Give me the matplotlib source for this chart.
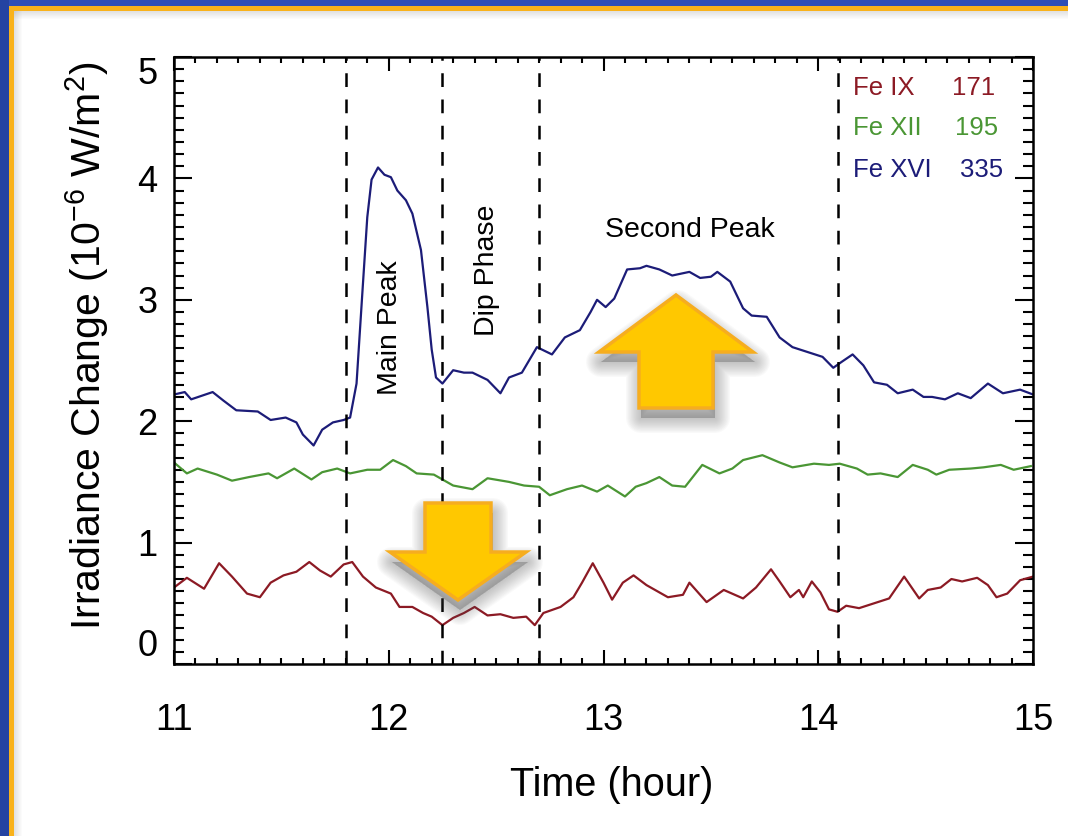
import numpy as np
import matplotlib
matplotlib.use('Agg')
import matplotlib.pyplot as plt
from matplotlib.patches import Polygon, Rectangle
from matplotlib.ticker import MultipleLocator

plt.rcParams['font.family'] = ['Liberation Sans', 'DejaVu Sans']
plt.rcParams['mathtext.fontset'] = 'custom'
plt.rcParams['mathtext.rm'] = 'Liberation Sans'
plt.rcParams['mathtext.it'] = 'Liberation Sans:italic'

# DATA
t_xvi = [11.00, 11.05, 11.08, 11.18, 11.23, 11.29, 11.39, 11.45, 11.52, 11.57,
         11.60, 11.65, 11.69, 11.74, 11.79, 11.82, 11.85, 11.875, 11.90, 11.92,
         11.95, 11.98, 12.01, 12.04, 12.08, 12.11, 12.15, 12.18, 12.20, 12.22,
         12.25, 12.30, 12.35, 12.39, 12.46, 12.52, 12.56, 12.62, 12.69, 12.76,
         12.82, 12.89, 12.94, 12.97, 13.01, 13.05, 13.11, 13.17, 13.20, 13.26,
         13.32, 13.40, 13.45, 13.50, 13.53, 13.59, 13.65, 13.69, 13.76, 13.82,
         13.88, 13.95, 14.02, 14.07, 14.11, 14.16, 14.21, 14.26, 14.32, 14.37,
         14.44, 14.49, 14.53, 14.59, 14.65, 14.71, 14.79, 14.86, 14.94, 15.00]
fe_xvi = [2.22, 2.24, 2.18, 2.24, 2.17, 2.09, 2.08, 2.01, 2.03, 1.99,
          1.89, 1.80, 1.93, 1.99, 2.01, 2.03, 2.31, 3.00, 3.68, 3.99,
          4.09, 4.03, 4.01, 3.90, 3.82, 3.71, 3.41, 2.94, 2.59, 2.36,
          2.31, 2.42, 2.40, 2.40, 2.34, 2.23, 2.36, 2.40, 2.61, 2.55,
          2.69, 2.75, 2.90, 3.00, 2.94, 3.01, 3.25, 3.26, 3.28, 3.25,
          3.20, 3.23, 3.18, 3.19, 3.23, 3.15, 2.93, 2.87, 2.86, 2.69,
          2.61, 2.57, 2.53, 2.44, 2.49, 2.55, 2.46, 2.32, 2.30, 2.23,
          2.26, 2.20, 2.20, 2.18, 2.23, 2.19, 2.31, 2.23, 2.26, 2.22]

t_xii = [11.00, 11.06, 11.11, 11.20, 11.27, 11.35, 11.44, 11.48, 11.56, 11.64,
         11.69, 11.76, 11.82, 11.90, 11.96, 12.02, 12.08, 12.13, 12.21, 12.30,
         12.39, 12.46, 12.56, 12.63, 12.70, 12.75, 12.83, 12.90, 12.97, 13.02,
         13.10, 13.15, 13.20, 13.26, 13.32, 13.38, 13.46, 13.54, 13.60, 13.65,
         13.74, 13.82, 13.88, 13.98, 14.05, 14.10, 14.18, 14.23, 14.29, 14.37,
         14.44, 14.51, 14.55, 14.61, 14.71, 14.77, 14.85, 14.91, 14.99]
fe_xii = [1.66, 1.57, 1.61, 1.56, 1.51, 1.54, 1.57, 1.53, 1.61, 1.52,
          1.58, 1.61, 1.57, 1.60, 1.60, 1.68, 1.63, 1.57, 1.56, 1.47,
          1.44, 1.53, 1.50, 1.47, 1.46, 1.39, 1.44, 1.47, 1.42, 1.47,
          1.38, 1.46, 1.49, 1.54, 1.47, 1.46, 1.64, 1.57, 1.61, 1.68,
          1.72, 1.66, 1.62, 1.65, 1.64, 1.65, 1.61, 1.56, 1.57, 1.54,
          1.64, 1.60, 1.56, 1.60, 1.61, 1.62, 1.64, 1.60, 1.63]

t_ix = [11.00, 11.06, 11.14, 11.21, 11.27, 11.34, 11.40, 11.45, 11.51, 11.57,
        11.63, 11.68, 11.73, 11.79, 11.83, 11.88, 11.94, 12.01, 12.05, 12.11,
        12.16, 12.20, 12.25, 12.30, 12.35, 12.40, 12.46, 12.52, 12.58, 12.64,
        12.68, 12.72, 12.80, 12.86, 12.90, 12.95, 13.00, 13.04, 13.09, 13.14,
        13.20, 13.30, 13.37, 13.40, 13.48, 13.56, 13.65, 13.71, 13.78, 13.82,
        13.87, 13.91, 13.93, 13.97, 14.01, 14.05, 14.09, 14.13, 14.19, 14.26,
        14.33, 14.40, 14.47, 14.51, 14.57, 14.62, 14.67, 14.74, 14.79, 14.83,
        14.88, 14.94, 15.00]
fe_ix = [0.63, 0.71, 0.62, 0.83, 0.72, 0.58, 0.55, 0.67, 0.73, 0.76,
         0.84, 0.77, 0.72, 0.82, 0.84, 0.72, 0.63, 0.58, 0.47, 0.47,
         0.42, 0.39, 0.32, 0.38, 0.42, 0.47, 0.40, 0.41, 0.38, 0.39,
         0.32, 0.42, 0.47, 0.55, 0.67, 0.83, 0.67, 0.53, 0.67, 0.73,
         0.65, 0.55, 0.57, 0.67, 0.51, 0.61, 0.54, 0.63, 0.78, 0.68,
         0.55, 0.61, 0.55, 0.68, 0.59, 0.45, 0.43, 0.48, 0.46, 0.50,
         0.54, 0.72, 0.54, 0.61, 0.63, 0.70, 0.68, 0.71, 0.65, 0.55,
         0.58, 0.69, 0.72]

phase_times = [11.80, 12.25, 12.70, 14.09]
legend_names = ['Fe IX', 'Fe XII', 'Fe XVI']
legend_waves = ['171', '195', '335']
colors = ['#8c1a24', '#4a9634', '#1c1c78']

W, H = 1068, 836
fig = plt.figure(figsize=(W/100, H/100), dpi=100, facecolor='white')

# frame: blue band + orange line + soft inner shadow (pixel coords, origin top-left)
def frect(x0, y0, w, h, **kw):
    fig.add_artist(Rectangle((x0/W, 1-(y0+h)/H), w/W, h/H, transform=fig.transFigure, lw=0, **kw))

for k in range(8):
    frect(14+k, 11, 1, H, color='0.55', alpha=0.25*(1-k/8))
    frect(14, 11+k, W, 1, color='0.55', alpha=0.25*(1-k/8))
frect(0, 0, W, 6, color='#2f4fb6')
frect(0, 0, 9, H, color='#2443a2')
frect(9, 6, W, 5, color='#f9b21b')
frect(9, 6, 5, H, color='#f9b21b')

ax = fig.add_axes([174/W, 1-664/H, (1033-174)/W, (664-57)/H])
for t, v, c in zip([t_ix, t_xii, t_xvi], [fe_ix, fe_xii, fe_xvi], colors):
    ax.plot(t, v, color=c, lw=1.6)
for xt in phase_times:
    ax.axvline(xt, color='black', lw=1.8, ls=(0, (5.5, 5)))

ax.set_xlim(11, 15)
ax.set_ylim(0, 5)
ax.xaxis.set_major_locator(MultipleLocator(1))
ax.xaxis.set_minor_locator(MultipleLocator(0.1))
ax.yaxis.set_major_locator(MultipleLocator(1))
ax.yaxis.set_minor_locator(MultipleLocator(0.1))
ax.tick_params(axis='both', which='both', direction='in', top=True, right=True, width=1.5, labelsize=26)
ax.tick_params(axis='x', which='major', length=10, pad=28)
ax.tick_params(axis='x', which='minor', length=4)
ax.tick_params(axis='y', which='major', length=13, pad=12)
ax.tick_params(axis='y', which='minor', length=7)
for s in ax.spines.values():
    s.set_linewidth(1.8)
ax.set_yticks(range(6))
ax.set_yticklabels([str(i) for i in range(6)])
ax.get_yticklabels()[0].set_va('bottom')
ax.get_yticklabels()[-1].set_va('top')

ax.set_xlabel('Time (hour)', fontsize=28.5)
ax.xaxis.set_label_coords(0.51, -0.199)
ax.xaxis.label.set_va('center')
ax.set_ylabel(r'Irradiance Change (10$^{-6}$ W/m$^2$)', fontsize=29.5)
ax.yaxis.set_label_coords(-0.101, 0.524)
ax.yaxis.label.set_va('center')

ax.text(12.006, 2.77, 'Main Peak', rotation=90, ha='center', va='center', fontsize=20.5)
ax.text(12.457, 3.245, 'Dip Phase', rotation=90, ha='center', va='center', fontsize=20.5)
ax.text(13.40, 3.575, 'Second Peak', ha='center', va='center', fontsize=20.5)

leg_y = [88, 128, 170]
leg_num_x = [952, 955, 960]
for name, wave, c, yy, nx in zip(legend_names, legend_waves, colors, leg_y, leg_num_x):
    fig.text(853/W, 1-yy/H, name, color=c, fontsize=18.5, ha='left', va='center')
    fig.text(nx/W, 1-yy/H, wave, color=c, fontsize=18.5, ha='left', va='center')

# block arrows with soft shadow (pixel coords)
def block_arrow(cx, tip_y, base_y, end_y, head_half, shaft_half):
    pts = [(cx, tip_y), (cx+head_half, base_y), (cx+shaft_half, base_y), (cx+shaft_half, end_y),
           (cx-shaft_half, end_y), (cx-shaft_half, base_y), (cx-head_half, base_y)]
    def fpts(dx, dy):
        return [((x+dx)/W, 1-(y+dy)/H) for x, y in pts]
    for k in range(12):
        fig.add_artist(Polygon(fpts(2, 10), closed=True, transform=fig.transFigure,
                               fc='0.35', ec='0.35', lw=1.8*(12-k), alpha=0.03, joinstyle='round'))
    fig.add_artist(Polygon(fpts(0, 0), closed=True, transform=fig.transFigure,
                           fc='#ffc800', ec='#f6ad1f', lw=2.5, joinstyle='miter'))

block_arrow(676, 295, 352, 408, 77, 37)
block_arrow(458, 600, 552, 503, 68, 33)

fig.savefig('out.png', dpi=100, facecolor='white')
